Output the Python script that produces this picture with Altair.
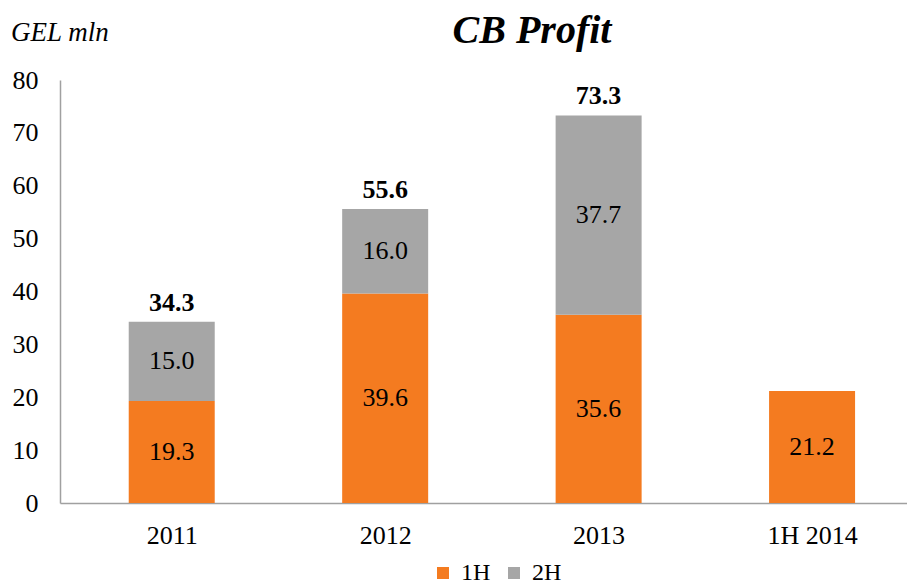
import json
import altair as alt
import pandas as pd

categories = ["2011", "2012", "2013", "1H 2014"]
h1_values = [19.3, 39.6, 35.6, 21.2]
h2_values = [15.0, 16.0, 37.7, None]
totals = [34.3, 55.6, 73.3, None]
series = ["1H", "2H"]
colors = ["#F47B20", "#A6A6A6"]

FONT = "Liberation Serif"
FS = 26

rows = []
for i, (c, a, b) in enumerate(zip(categories, h1_values, h2_values)):
    rows.append({"cat": c, "idx": i, "series": "1H", "value": a, "ord": 0})
    if b is not None:
        rows.append({"cat": c, "idx": i, "series": "2H", "value": b, "ord": 1})
df = pd.DataFrame(rows)
tot = pd.DataFrame([{"cat": c, "idx": i, "total": t}
                    for i, (c, t) in enumerate(zip(categories, totals)) if t is not None])

xscale = alt.Scale(domain=[-0.5, 3.4213], nice=False, zero=False)
label_expr = json.dumps(categories) + "[datum.value]"
xenc = alt.X("idx:Q", title=None, scale=xscale,
             axis=alt.Axis(values=list(range(len(categories))), labelExpr=label_expr,
                           labelAngle=0, ticks=False, grid=False, domainColor="#A0A0A0",
                           domainWidth=1.5, labelFont=FONT, labelFontSize=FS,
                           labelColor="#000000", labelPadding=19, labelFlush=False,
                           labelOverlap=False))
yscale = alt.Scale(domain=[0, 80])

base = alt.Chart(df).transform_stack(
    stack="value", groupby=["cat"], as_=["v0", "v1"], sort=[alt.SortField("ord")]
).transform_calculate(mid="(datum.v0 + datum.v1) / 2")

bars = base.mark_bar(size=86).encode(
    x=xenc,
    y=alt.Y("v0:Q", scale=yscale, title=None,
            axis=alt.Axis(values=[0, 10, 20, 30, 40, 50, 60, 70, 80], ticks=False, grid=False,
                          domainColor="#A0A0A0", domainWidth=1.5, labelFont=FONT, labelFontSize=FS,
                          labelColor="#000000", labelPadding=22)),
    y2="v1:Q",
    color=alt.Color("series:N", scale=alt.Scale(domain=series, range=colors), title=None,
                    legend=alt.Legend(orient="none", legendX=371, legendY=481, direction="horizontal",
                                      symbolType="square", symbolSize=144, symbolStrokeWidth=0,
                                      labelFont=FONT, labelFontSize=24, labelColor="#000000",
                                      columnPadding=11, labelOffset=6)),
)

seg_labels = base.mark_text(font=FONT, fontSize=FS, color="#000000").encode(
    x=alt.X("idx:Q", scale=xscale),
    y=alt.Y("mid:Q", scale=yscale),
    text=alt.Text("value:Q", format=".1f"),
)

tot_labels = alt.Chart(tot).mark_text(font=FONT, fontSize=FS, fontWeight="bold", color="#000000",
                                       baseline="bottom", dy=-6).encode(
    x=alt.X("idx:Q", scale=xscale),
    y=alt.Y("total:Q", scale=yscale),
    text=alt.Text("total:Q", format=".1f"),
)

unit = alt.Chart(pd.DataFrame({"t": ["GEL mln"]})).mark_text(
    font=FONT, fontSize=27, fontStyle="italic", align="left", baseline="alphabetic", color="#000000"
).encode(x=alt.value(-49), y=alt.value(-39), text="t:N")

title = alt.Chart(pd.DataFrame({"t": ["CB Profit"]})).mark_text(
    font=FONT, fontSize=40, fontStyle="italic", fontWeight="bold", align="center",
    baseline="alphabetic", color="#000000"
).encode(x=alt.value(472), y=alt.value(-37), text="t:N")

chart = alt.layer(bars, seg_labels, tot_labels, unit, title).properties(
    width=847, height=423,
    autosize=alt.AutoSizeParams(type="none"),
    padding={"left": 52, "top": 72, "right": 0, "bottom": 80},
).configure_view(stroke=None)

chart.save("out.html", embed_options={"renderer": "svg", "actions": False})
